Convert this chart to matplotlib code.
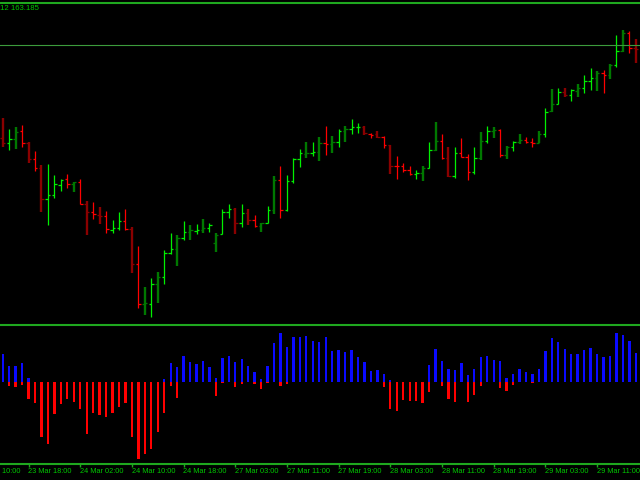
import matplotlib
matplotlib.use('Agg')
import matplotlib.pyplot as plt
import numpy as np

# hourly OHLC, GBPJPY-like prices
opens = [162.252, 162.202, 162.242, 162.325, 162.202, 162.045, 161.952, 161.642, 161.682, 161.782,
         161.842, 161.798, 161.815, 161.592, 161.512, 161.482, 161.475, 161.335, 161.352, 161.425,
         161.342, 160.995, 160.595, 160.595, 160.795, 160.862, 161.102, 161.142, 161.258, 161.312,
         161.325, 161.335, 161.352, 161.202, 161.292, 161.512, 161.548, 161.402, 161.508, 161.435,
         161.378, 161.402, 161.535, 161.835, 161.535, 161.828, 162.042, 162.092, 162.102, 162.118,
         162.208, 162.192, 162.218, 162.328, 162.342, 162.362, 162.362, 162.292, 162.292, 162.262,
         162.182, 161.978, 161.975, 161.935, 161.895, 161.902, 161.958, 162.135, 162.225, 162.052,
         161.875, 162.102, 162.068, 161.918, 162.052, 162.225, 162.325, 162.335, 162.085, 162.168,
         162.212, 162.235, 162.218, 162.208, 162.295, 162.525, 162.592, 162.712, 162.685, 162.728,
         162.752, 162.825, 162.852, 162.902, 162.885, 162.985, 163.128, 163.302, 163.152]
highs = [162.452, 162.345, 162.365, 162.385, 162.215, 162.125, 161.982, 161.995, 161.882, 161.845,
         161.895, 161.818, 161.842, 161.628, 161.615, 161.565, 161.525, 161.435, 161.512, 161.545,
         161.362, 161.175, 160.762, 160.852, 160.915, 161.135, 161.308, 161.285, 161.428, 161.382,
         161.392, 161.445, 161.408, 161.308, 161.542, 161.592, 161.558, 161.595, 161.542, 161.485,
         161.408, 161.575, 161.875, 161.975, 161.885, 162.052, 162.145, 162.212, 162.212, 162.262,
         162.375, 162.275, 162.342, 162.375, 162.445, 162.402, 162.375, 162.302, 162.322, 162.275,
         162.185, 162.075, 162.008, 161.975, 161.935, 161.975, 162.218, 162.415, 162.295, 162.168,
         162.168, 162.252, 162.095, 162.168, 162.318, 162.375, 162.362, 162.345, 162.175, 162.225,
         162.295, 162.262, 162.252, 162.325, 162.552, 162.742, 162.752, 162.752, 162.742, 162.792,
         162.885, 162.952, 162.925, 162.935, 162.992, 163.285, 163.335, 163.325, 163.242]
lows = [162.168, 162.135, 162.145, 162.168, 162.002, 161.928, 161.518, 161.385, 161.658, 161.728,
        161.752, 161.712, 161.592, 161.285, 161.445, 161.392, 161.308, 161.302, 161.335, 161.335,
        160.908, 160.552, 160.485, 160.468, 160.608, 160.795, 161.095, 160.975, 161.235, 161.235,
        161.295, 161.302, 161.318, 161.118, 161.292, 161.458, 161.295, 161.362, 161.385, 161.368,
        161.318, 161.402, 161.492, 161.452, 161.525, 161.802, 161.968, 162.052, 162.078, 162.028,
        162.085, 162.102, 162.162, 162.218, 162.295, 162.308, 162.285, 162.252, 162.252, 162.158,
        161.895, 161.845, 161.918, 161.885, 161.845, 161.828, 161.952, 162.128, 162.042, 161.868,
        161.852, 162.062, 161.835, 161.895, 162.035, 162.202, 162.252, 162.068, 162.042, 162.125,
        162.192, 162.202, 162.162, 162.202, 162.268, 162.518, 162.592, 162.668, 162.628, 162.662,
        162.702, 162.735, 162.725, 162.702, 162.845, 162.968, 163.118, 163.102, 163.008]
closes = [162.202, 162.242, 162.312, 162.202, 162.045, 161.952, 161.642, 161.682, 161.795, 161.832,
          161.798, 161.815, 161.595, 161.512, 161.492, 161.475, 161.342, 161.352, 161.425, 161.342,
          160.995, 160.595, 160.602, 160.795, 160.862, 161.102, 161.142, 161.258, 161.312, 161.335,
          161.335, 161.352, 161.382, 161.285, 161.512, 161.548, 161.402, 161.508, 161.435, 161.378,
          161.402, 161.535, 161.835, 161.535, 161.828, 162.042, 162.102, 162.102, 162.118, 162.208,
          162.192, 162.218, 162.328, 162.342, 162.362, 162.365, 162.302, 162.290, 162.262, 162.182,
          161.975, 161.975, 161.935, 161.895, 161.908, 161.958, 162.135, 162.225, 162.052, 161.875,
          162.102, 162.068, 161.918, 162.052, 162.225, 162.325, 162.335, 162.085, 162.168, 162.212,
          162.235, 162.218, 162.202, 162.295, 162.512, 162.592, 162.712, 162.685, 162.735, 162.752,
          162.825, 162.852, 162.908, 162.885, 162.985, 163.128, 163.302, 163.152, 163.150]
# b = up, g = up (dark), r = down, d = down (dark)
bar_styles = ("dbgrdrdbbb" "rgrdrdrbbr" "drgbgbbgbg" "bgbgbbdbdr" "gbgrbbbgbg"
              "rgbgbbdrdr" "drrrbgbgrd" "brrbgbgrgb" "grrgbgbdbg" "bbgrgbgrd")

osc_up = [27.7, 15.7, 15.3, 18.7, 3.7, 0, 0, 0, 0, 0,
          0, 0, 0, 0, 0, 0, 0, 0, 0, 0,
          0, 0, 0, 0, 0, 2.3, 18.7, 14.7, 25.7, 19.3,
          18, 20.7, 14.7, 3.7, 23.7, 25.7, 20, 22.7, 15.3, 9.7,
          2.3, 16, 38.7, 49, 34.7, 44.3, 45, 45.7, 40.3, 39.7,
          45, 30.7, 31.3, 29.7, 32, 24.7, 19.3, 10.3, 11.7, 7.3,
          1.7, 0, 0, 0, 0, 0, 16.7, 32.7, 20.7, 12.7,
          11.3, 18.7, 6.7, 12.7, 24.7, 25.7, 21.7, 20.7, 3.7, 7.3,
          12.7, 9.7, 7.3, 12.7, 30.7, 43.7, 39.7, 32.7, 27.7, 27.7,
          32, 33.7, 27.7, 24.3, 25.7, 48.3, 46.7, 40.7, 28.3]
osc_down = [0, -4, -5.3, -3.3, -17.7, -21.7, -55, -62, -32, -22.3,
            -17.7, -20.3, -27.3, -52.3, -31.3, -33.3, -35.3, -31.3, -25.3, -21.7,
            -55.3, -77, -72.3, -67.3, -50, -31.3, -4, -16, 0, 0,
            0, 0, 0, -14, -1.7, 0, -5.7, -2.3, 0, -2.3,
            -7.3, -1.7, 0, -4, -2.3, 0, 0, 0, 0, 0,
            0, 0, 0, 0, 0, 0, 0, 0, 0, -5.3,
            -27.3, -29, -18.3, -19.3, -19.3, -21, -10, 0, -4, -17.7,
            -20, 0, -20, -13.3, -4, 0, 0, -6, -9.3, -3.3,
            0, 0, -1.7, 0, 0, 0, 0, 0, 0, 0,
            0, 0, 0, 0, 0, 0, 0, 0, 0]

tick_pos = [-4, 4, 12, 20, 28, 36, 44, 52, 60, 68, 76, 84, 92]
tick_labels = ['23 Mar 10:00', '23 Mar 18:00', '24 Mar 02:00', '24 Mar 10:00',
               '24 Mar 18:00', '27 Mar 03:00', '27 Mar 11:00', '27 Mar 19:00',
               '28 Mar 03:00', '28 Mar 11:00', '28 Mar 19:00', '29 Mar 03:00',
               '29 Mar 11:00']
last_price = 163.185

frame_green = '#1fa81f'
text_green = '#00c800'
style_color = {'b': '#00f000', 'g': '#007800', 'r': '#ff0000', 'd': '#8a0000'}
style_width = {'b': 0.9, 'g': 1.7, 'r': 0.9, 'd': 1.7}

plt.rcParams['font.family'] = ['Liberation Sans', 'DejaVu Sans']

fig = plt.figure(figsize=(6.4, 4.8), dpi=100, facecolor='black')
ax = fig.add_axes([0, 1 - 324.5 / 480, 1, 322 / 480], facecolor='black')
ax_osc = fig.add_axes([0, 1 - 464 / 480, 1, 139.5 / 480], facecolor='black')

idx = np.arange(len(opens))
colors = [style_color[s] for s in bar_styles]
widths = [style_width[s] for s in bar_styles]
tick = 0.38

ax.vlines(idx, lows, highs, colors=colors, linewidths=widths)
ax.hlines(opens, idx - tick, idx, colors=colors, linewidths=0.9)
ax.hlines(closes, idx, idx + tick, colors=colors, linewidths=0.9)
ax.axhline(last_price, color='#3c9c3c', lw=0.8)

ax.set_xlim(-0.42, 98.65)
ax.set_ylim(160.39, 163.61)
ax.set_xticks([])
ax.set_yticks([])
for side in ['left', 'right', 'bottom']:
    ax.spines[side].set_visible(False)
ax.spines['top'].set_color(frame_green)
ax.spines['top'].set_linewidth(1.5)

fig.text(0.0, 1 - 9 / 480, '12 ' + f'{last_price:.3f}', color=text_green,
         fontsize=5.6, va='center', ha='left')

# oscillator histogram
ax_osc.bar(idx, osc_up, width=0.36, color='#0a0aff')
ax_osc.bar(idx, osc_down, width=0.36, color='#ff0000')
ax_osc.set_xlim(-0.42, 98.65)
ax_osc.set_ylim(-82.3, 57.2)
ax_osc.set_yticks([])
for side in ['left', 'right']:
    ax_osc.spines[side].set_visible(False)
for side in ['top', 'bottom']:
    ax_osc.spines[side].set_color(frame_green)
    ax_osc.spines[side].set_linewidth(1.5)

ax_osc.set_xticks([p for p in tick_pos if p >= 0])
ax_osc.set_xticklabels([])
ax_osc.tick_params(axis='x', length=2.5, width=1, color=frame_green, direction='out')
trans = ax_osc.get_xaxis_transform()
for p, lab in zip(tick_pos, tick_labels):
    ax_osc.text(p - 0.05, -0.057, lab, transform=trans, color=text_green,
                fontsize=5.3, ha='left', va='center', clip_on=False)

fig.savefig('out.png', dpi=100, facecolor='black')
